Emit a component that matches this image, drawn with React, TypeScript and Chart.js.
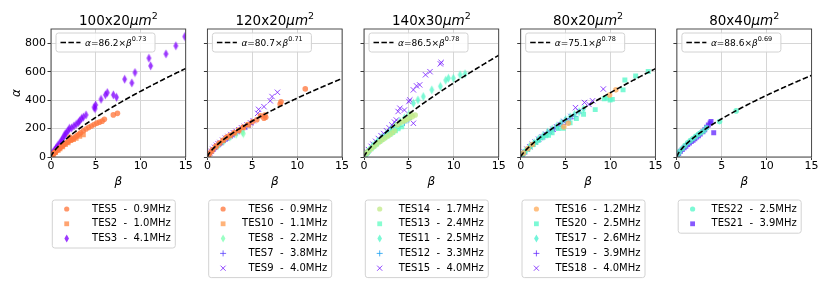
import React, { useEffect, useRef } from 'react';
import { Chart, registerables } from 'chart.js';
Chart.register(...registerables);

const FONT = '"DejaVu Sans", sans-serif';

// ---------- chart data ----------
const panelTitles = ['100x20', '120x20', '140x30', '80x20', '80x40'];
const fitA = [86.2, 80.7, 86.5, 75.1, 88.6];
const fitB = [0.73, 0.71, 0.78, 0.78, 0.69];
const xTicks = [0, 5, 10, 15];
const yTicks = [0, 200, 400, 600, 800];
const xRange = [0, 15];
const yRange = [0, 900];

// panel 1: 100x20 um^2  ([beta, alpha])
const tes5 = [[0.05,5],[0.1,10],[0.2,17],[0.3,24],[0.4,31],[0.5,37],[0.65,45],[0.8,53],[0.95,62],[1.1,70],[1.25,78],[1.4,86],[1.6,95],[1.8,104],[2.0,112],[2.1,140],[2.3,122],[2.5,130],[2.7,140],[2.9,150],[3.1,160],[3.3,170],[3.6,185],[3.9,197],[4.2,208],[4.5,218],[4.8,228],[5.1,238],[5.4,245],[5.7,252],[5.94,265],[6.94,296],[7.4,307]];
const tes2 = [[0.3,20],[0.5,32],[0.8,48],[1.0,58],[1.3,72],[1.6,88],[1.9,100],[2.2,115],[2.5,122],[2.8,132],[3.2,145],[3.6,156]];
const tes3 = [[0.1,18],[0.2,30],[0.35,45],[0.5,58],[0.65,70],[0.8,85],[1.0,100],[1.15,115],[1.3,130],[1.45,145],[1.56,160],[1.7,170],[1.9,185],[2.04,202],[2.3,205],[2.56,218],[2.8,230],[3.04,242],[3.2,255],[3.4,271],[3.6,280],[3.9,296],[4.8,350],[4.97,366],[4.9,340],[5.57,406],[6.05,437],[6.27,453],[6.94,437],[7.3,420],[8.2,547],[9.0,521],[9.35,594],[10.9,695],[11.1,641],[12.8,725],[13.9,782],[14.9,847]];

// panel 2: 120x20 um^2
const tes6 = [[0.1,12],[0.3,30],[0.6,52],[1.0,78],[1.4,100],[1.8,120],[2.2,140],[2.6,155],[3.0,172],[3.5,190],[4.0,210],[4.5,228],[5.0,248],[5.5,262],[5.9,290],[6.4,295],[6.5,279],[6.3,272],[8.1,373],[8.2,389],[10.9,479]];
const tes10 = [[0.2,20],[0.5,42],[0.9,70],[1.3,95],[1.7,115],[2.1,135],[2.5,150],[3.0,168],[3.5,185],[4.0,205],[4.6,225]];
const tes8 = [[1.2,80],[1.8,110],[2.5,140],[3.2,160],[3.9,175],[4.0,165]];
const tes7 = [[0.05,8],[0.15,18],[0.3,28],[0.45,38],[0.6,48],[0.8,58],[1.0,70],[1.2,80],[1.4,90],[1.6,100],[1.8,110],[2.0,120],[2.2,128],[2.4,136],[2.6,145],[2.8,152],[3.0,160],[3.3,172],[3.6,182],[4.0,198],[4.4,212],[4.8,228]];
const tes9 = [[0.1,15],[0.25,28],[0.4,40],[0.6,55],[0.8,68],[1.0,82],[1.2,92],[1.4,102],[1.7,118],[2.0,132],[2.3,145],[2.6,158],[2.9,170],[3.2,180],[3.5,192],[3.8,205],[4.1,215],[4.4,225],[4.8,240],[5.1,255],[5.6,307],[5.7,335],[6.3,354],[7.0,395],[7.2,425],[7.8,455]];

// panel 3: 140x30 um^2
const tes14 = [[0.2,22],[0.4,36],[0.7,52],[1.0,68],[1.3,85],[1.6,100],[1.9,115],[2.2,128],[2.5,142],[2.8,155],[3.1,168],[3.4,185],[3.7,225],[4.0,240],[4.4,252],[4.8,265],[5.1,275],[5.4,285],[5.7,295],[5.2,300],[4.6,258]];
const tes13 = [[0.1,10],[0.3,25],[0.5,40],[0.8,58],[1.1,75],[1.4,92],[1.7,108],[2.0,122],[2.3,135],[2.6,148],[2.9,160],[3.2,172],[3.5,185],[3.8,198],[4.2,212]];
const tes11 = [[0.5,42],[1.0,80],[1.5,110],[2.0,140],[2.5,165],[3.0,195],[3.5,220],[4.0,250],[4.5,275],[5.0,300],[5.5,378],[6.0,401],[6.6,425],[7.55,472],[8.5,497],[9.1,540],[9.4,554],[9.95,554],[10.7,578],[11.25,585]];
const tes12 = [[0.05,8],[0.15,18],[0.3,30],[0.5,45],[0.7,58],[0.9,70],[1.1,82],[1.3,95],[1.5,105],[1.7,115],[1.9,125],[2.1,135],[2.3,145],[2.5,155],[2.7,165],[3.0,178],[3.3,190],[3.6,200],[4.0,215],[4.5,240],[5.0,265]];
const tes15 = [[0.1,18],[0.3,35],[0.5,52],[0.8,75],[1.0,90],[1.3,110],[1.6,130],[1.9,150],[2.2,165],[2.5,185],[2.8,205],[3.1,225],[3.4,245],[3.6,260],[3.8,320],[4.0,343],[4.5,330],[5.0,390],[5.1,401],[5.5,237],[5.5,472],[5.85,500],[6.2,507],[6.85,578],[7.35,600],[8.5,655],[8.6,665]];

// panel 4: 80x20 um^2
const tes16 = [[0.3,28],[0.8,60],[1.3,88],[4.8,212],[5.3,237],[9.9,436],[10.6,472]];
const tes20 = [[0.1,10],[0.3,25],[0.5,38],[0.8,55],[1.1,72],[1.4,88],[1.7,102],[2.0,118],[2.4,135],[2.8,150],[3.1,153],[3.5,170],[4.2,200],[4.75,202],[5.5,240],[6.2,270],[7.0,300],[8.3,333],[9.3,410],[9.6,415],[9.95,401],[10.2,405],[11.4,472],[11.6,542],[12.8,570],[14.2,601]];
const tes17 = [[0.5,42],[1.0,75],[1.5,100],[2.0,128],[2.5,150],[3.0,175],[3.5,195],[4.0,215],[4.5,240],[5.0,262],[5.5,282],[6.0,300],[6.5,318],[7.0,338]];
const tes19 = [[0.1,12],[0.3,26],[0.6,45],[0.9,63],[1.2,80],[1.5,96],[1.8,112],[2.1,126],[2.4,140],[2.7,153],[3.0,166],[3.4,182],[3.8,198],[4.2,214],[4.6,230],[5.0,248],[5.5,268],[6.0,285]];
const tes18 = [[0.15,18],[0.4,35],[0.7,55],[1.0,72],[1.3,90],[1.6,105],[2.0,125],[2.4,142],[2.8,160],[3.2,178],[3.6,195],[4.0,212],[4.4,228],[4.8,250],[5.2,262],[5.6,285],[6.1,347],[6.5,320],[7.1,383],[7.6,370],[8.0,395],[9.2,478]];

// panel 5: 80x40 um^2
const tes22 = [[0.1,18],[0.3,38],[0.6,60],[0.9,80],[1.2,100],[1.5,115],[1.8,130],[2.1,145],[2.4,160],[2.7,172],[3.0,185],[3.3,205],[4.75,249],[6.6,324]];
const tes21 = [[0.05,10],[0.2,25],[0.4,40],[0.6,52],[0.8,65],[1.0,75],[1.2,88],[1.4,98],[1.6,108],[1.8,118],[2.0,128],[2.2,140],[2.4,150],[2.6,162],[2.9,178],[3.1,192],[3.3,210],[3.5,225],[3.7,240],[3.8,249],[4.1,171]];

type Marker = 'o' | 's' | 'd' | '+' | 'x';
interface Series { name: string; freq: number; marker: Marker; data: number[][]; }

const panel1: Series[] = [
  { name: 'TES5', freq: 0.9, marker: 'o', data: tes5 },
  { name: 'TES2', freq: 1.0, marker: 's', data: tes2 },
  { name: 'TES3', freq: 4.1, marker: 'd', data: tes3 },
];
const panel2: Series[] = [
  { name: 'TES6', freq: 0.9, marker: 'o', data: tes6 },
  { name: 'TES10', freq: 1.1, marker: 's', data: tes10 },
  { name: 'TES8', freq: 2.2, marker: 'd', data: tes8 },
  { name: 'TES7', freq: 3.8, marker: '+', data: tes7 },
  { name: 'TES9', freq: 4.0, marker: 'x', data: tes9 },
];
const panel3: Series[] = [
  { name: 'TES14', freq: 1.7, marker: 'o', data: tes14 },
  { name: 'TES13', freq: 2.4, marker: 's', data: tes13 },
  { name: 'TES11', freq: 2.5, marker: 'd', data: tes11 },
  { name: 'TES12', freq: 3.3, marker: '+', data: tes12 },
  { name: 'TES15', freq: 4.0, marker: 'x', data: tes15 },
];
const panel4: Series[] = [
  { name: 'TES16', freq: 1.2, marker: 'o', data: tes16 },
  { name: 'TES20', freq: 2.5, marker: 's', data: tes20 },
  { name: 'TES17', freq: 2.6, marker: 'd', data: tes17 },
  { name: 'TES19', freq: 3.9, marker: '+', data: tes19 },
  { name: 'TES18', freq: 4.0, marker: 'x', data: tes18 },
];
const panel5: Series[] = [
  { name: 'TES22', freq: 2.5, marker: 'o', data: tes22 },
  { name: 'TES21', freq: 3.9, marker: 's', data: tes21 },
];
const panels = [panel1, panel2, panel3, panel4, panel5];

// ---------- styling / geometry ----------
const W = 830, H = 293;
const plotLefts = [51, 207.4, 364, 520.7, 676.9];
const plotWidth = 134.7;
const plotTop = 29, plotBottom = 157;
const WY = 30, HX = 20;
const ALPHA = 0.78;

function rainbow(f: number, alpha: number) {
  const x = Math.min(1, Math.max(0, (4.1 - f) / 3.8));
  const r = Math.min(1, Math.abs(2 * x - 0.5));
  const g = Math.sin(Math.PI * x);
  const b = Math.cos((Math.PI * x) / 2);
  return `rgba(${Math.round(r * 255)},${Math.round(g * 255)},${Math.round(b * 255)},${alpha})`;
}

function thinDiamond(color: string) {
  const c = document.createElement('canvas');
  c.width = 7; c.height = 10;
  const g = c.getContext('2d')!;
  g.fillStyle = color;
  g.beginPath();
  g.moveTo(3.5, 0.5); g.lineTo(5.9, 5); g.lineTo(3.5, 9.5); g.lineTo(1.1, 5);
  g.closePath(); g.fill();
  return c;
}

function markerProps(s: Series) {
  const col = rainbow(s.freq, ALPHA);
  switch (s.marker) {
    case 'o': return { pointStyle: 'circle', pointRadius: 2.8, backgroundColor: col, borderWidth: 0, borderColor: col };
    case 's': return { pointStyle: 'rect', pointRadius: 3.5, backgroundColor: col, borderWidth: 0, borderColor: col };
    case 'd': return { pointStyle: thinDiamond(col), pointRadius: 3, backgroundColor: col, borderWidth: 0, borderColor: col };
    case '+': return { pointStyle: 'cross', pointRadius: 3.2, backgroundColor: col, borderWidth: 1, borderColor: col };
    default: return { pointStyle: 'crossRot', pointRadius: 3.8, backgroundColor: col, borderWidth: 1, borderColor: col };
  }
}

function drawMarker(ctx: CanvasRenderingContext2D, s: Series, x: number, y: number) {
  const col = rainbow(s.freq, ALPHA);
  ctx.save();
  ctx.fillStyle = col; ctx.strokeStyle = col; ctx.lineWidth = 1;
  ctx.beginPath();
  if (s.marker === 'o') { ctx.arc(x, y, 2.6, 0, Math.PI * 2); ctx.fill(); }
  else if (s.marker === 's') { ctx.rect(x - 2.4, y - 2.4, 4.8, 4.8); ctx.fill(); }
  else if (s.marker === 'd') { ctx.moveTo(x, y - 4); ctx.lineTo(x + 2.3, y); ctx.lineTo(x, y + 4); ctx.lineTo(x - 2.3, y); ctx.closePath(); ctx.fill(); }
  else if (s.marker === '+') { ctx.moveTo(x - 3, y); ctx.lineTo(x + 3, y); ctx.moveTo(x, y - 3); ctx.lineTo(x, y + 3); ctx.stroke(); }
  else { const d = 2.55; ctx.moveTo(x - d, y - d); ctx.lineTo(x + d, y + d); ctx.moveTo(x + d, y - d); ctx.lineTo(x - d, y + d); ctx.stroke(); }
  ctx.restore();
}

function roundRect(ctx: CanvasRenderingContext2D, x: number, y: number, w: number, h: number, r: number) {
  ctx.beginPath();
  ctx.moveTo(x + r, y);
  ctx.lineTo(x + w - r, y); ctx.arcTo(x + w, y, x + w, y + r, r);
  ctx.lineTo(x + w, y + h - r); ctx.arcTo(x + w, y + h, x + w - r, y + h, r);
  ctx.lineTo(x + r, y + h); ctx.arcTo(x, y + h, x, y + h - r, r);
  ctx.lineTo(x, y + r); ctx.arcTo(x, y, x + r, y, r);
  ctx.closePath();
}

type Part = { t: string; f: string; dy?: number };
function drawParts(ctx: CanvasRenderingContext2D, parts: Part[], x: number, y: number, align: 'left' | 'center') {
  let total = 0;
  const ws = parts.map(p => { ctx.font = p.f; const w = ctx.measureText(p.t).width; total += w; return w; });
  let cx = align === 'center' ? x - total / 2 : x;
  ctx.textAlign = 'left';
  ctx.textBaseline = 'alphabetic';
  parts.forEach((p, i) => { ctx.font = p.f; ctx.fillText(p.t, cx, y + (p.dy || 0)); cx += ws[i]; });
}

function makePlugin(idx: number) {
  return {
    id: 'deco' + idx,
    afterDraw(chart: any) {
      const ctx: CanvasRenderingContext2D = chart.ctx;
      const a = chart.chartArea;
      const series = panels[idx];
      ctx.save();
      // frame
      ctx.strokeStyle = '#3a3a3a';
      ctx.lineWidth = 0.9;
      ctx.strokeRect(a.left, a.top, a.right - a.left, a.bottom - a.top);
      ctx.fillStyle = '#000';
      // title
      drawParts(ctx, [
        { t: panelTitles[idx], f: `13.5px ${FONT}` },
        { t: 'μm', f: `italic 13.5px ${FONT}` },
        { t: '2', f: `9.5px ${FONT}`, dy: -6.5 },
      ], (a.left + a.right) / 2, 25, 'center');
      // axis labels
      ctx.font = `italic 12px ${FONT}`;
      ctx.textAlign = 'center';
      ctx.textBaseline = 'middle';
      ctx.fillText('β', (a.left + a.right) / 2, 181.5);
      if (idx === 0) {
        ctx.save();
        ctx.translate(16.5, (a.top + a.bottom) / 2);
        ctx.rotate(-Math.PI / 2);
        ctx.fillText('α', 0, 0);
        ctx.restore();
      }
      // inner legend
      const bx = a.left + 5, by = 33, bw = 99, bh = 19;
      roundRect(ctx, bx, by, bw, bh, 2.5);
      ctx.fillStyle = 'rgba(255,255,255,0.85)';
      ctx.fill();
      ctx.strokeStyle = '#d2d2d2';
      ctx.lineWidth = 1;
      ctx.stroke();
      ctx.strokeStyle = '#000';
      ctx.lineWidth = 1.6;
      ctx.setLineDash([5.5, 2.4]);
      ctx.beginPath();
      ctx.moveTo(bx + 4.5, by + 9.5); ctx.lineTo(bx + 24.5, by + 9.5);
      ctx.stroke();
      ctx.setLineDash([]);
      ctx.fillStyle = '#000';
      drawParts(ctx, [
        { t: 'α', f: `italic 9px ${FONT}` },
        { t: '=' + fitA[idx].toFixed(1) + '×', f: `9px ${FONT}` },
        { t: 'β', f: `italic 9px ${FONT}` },
        { t: fitB[idx].toFixed(2), f: `6.5px ${FONT}`, dy: -5 },
      ], bx + 29, by + 13, 'left');
      // bottom legend
      const lx = a.left + 1.3, ly = 200, lw = 123;
      const lh = series.length * 14.8 + 3.6;
      roundRect(ctx, lx, ly, lw, lh, 2.5);
      ctx.fillStyle = 'rgba(255,255,255,0.85)';
      ctx.fill();
      ctx.strokeStyle = '#d2d2d2';
      ctx.lineWidth = 1;
      ctx.stroke();
      series.forEach((s, k) => {
        const yy = ly + 9 + k * 14.8;
        drawMarker(ctx, s, lx + 14.4, yy);
        ctx.fillStyle = '#000';
        ctx.font = `10px ${FONT}`;
        ctx.textAlign = 'right';
        ctx.textBaseline = 'middle';
        ctx.fillText(`${s.name}  -  ${s.freq.toFixed(1)}MHz`, lx + lw - 4.5, yy);
      });
      ctx.restore();
    },
  };
}

function buildConfig(idx: number): any {
  const series = panels[idx];
  const L = plotLefts[idx];
  const datasets: any[] = series.map(s => ({
    type: 'scatter',
    label: s.name,
    data: s.data.map(([x, y]) => ({ x, y })),
    order: 1,
    ...markerProps(s),
  }));
  // fitted power law alpha = A * beta^B, parameters from the legend
  const fitPts: { x: number; y: number }[] = [];
  for (let i = 0; i <= 300; i++) {
    const b = (i / 300) * xRange[1];
    fitPts.push({ x: b, y: fitA[idx] * Math.pow(b, fitB[idx]) });
  }
  datasets.push({
    type: 'line',
    label: 'fit',
    data: fitPts,
    borderColor: '#000',
    borderWidth: 1.6,
    borderDash: [5.5, 2.4],
    pointRadius: 0,
    fill: false,
    tension: 0,
    order: 0,
  });
  const tickFont = { family: FONT, size: 11 };
  return {
    type: 'scatter',
    data: { datasets },
    plugins: [makePlugin(idx)],
    options: {
      animation: false,
      responsive: false,
      devicePixelRatio: 1,
      events: [],
      layout: {
        padding: { left: L - WY, right: W - (L + plotWidth), top: plotTop, bottom: H - plotBottom - HX },
      },
      plugins: { legend: { display: false }, title: { display: false }, tooltip: { enabled: false } },
      scales: {
        x: {
          type: 'linear',
          min: xRange[0],
          max: xRange[1],
          afterFit: (s: any) => { s.height = HX; },
          afterBuildTicks: (s: any) => { s.ticks = xTicks.map(v => ({ value: v })); },
          grid: { color: '#d6d6d6', lineWidth: 1, drawTicks: true, tickLength: 3, tickColor: '#3a3a3a' },
          border: { display: false },
          ticks: { font: tickFont, color: '#000', padding: 0, maxRotation: 0, autoSkip: false },
        },
        y: {
          type: 'linear',
          min: yRange[0],
          max: yRange[1],
          afterFit: (s: any) => { s.width = WY; },
          afterBuildTicks: (s: any) => { s.ticks = yTicks.map(v => ({ value: v })); },
          grid: { color: '#d6d6d6', lineWidth: 1, drawTicks: true, tickLength: 3.5, tickColor: '#3a3a3a' },
          border: { display: false },
          ticks: {
            font: tickFont, color: '#000', padding: 1.5, autoSkip: false,
            callback: (v: any) => (idx === 0 ? String(v) : ''),
          },
        },
      },
    },
  };
}

function Panel({ idx }: { idx: number }) {
  const ref = useRef<HTMLCanvasElement>(null);
  useEffect(() => {
    const chart = new Chart(ref.current as HTMLCanvasElement, buildConfig(idx));
    return () => chart.destroy();
  }, [idx]);
  return (
    <canvas
      ref={ref}
      width={W}
      height={H}
      style={{ position: 'absolute', left: 0, top: 0, width: W, height: H }}
    />
  );
}

export default function App() {
  return (
    <div style={{ position: 'fixed', left: 0, top: 0, width: W, height: H, background: '#fff' }}>
      {panels.map((_, i) => <Panel key={i} idx={i} />)}
    </div>
  );
}
